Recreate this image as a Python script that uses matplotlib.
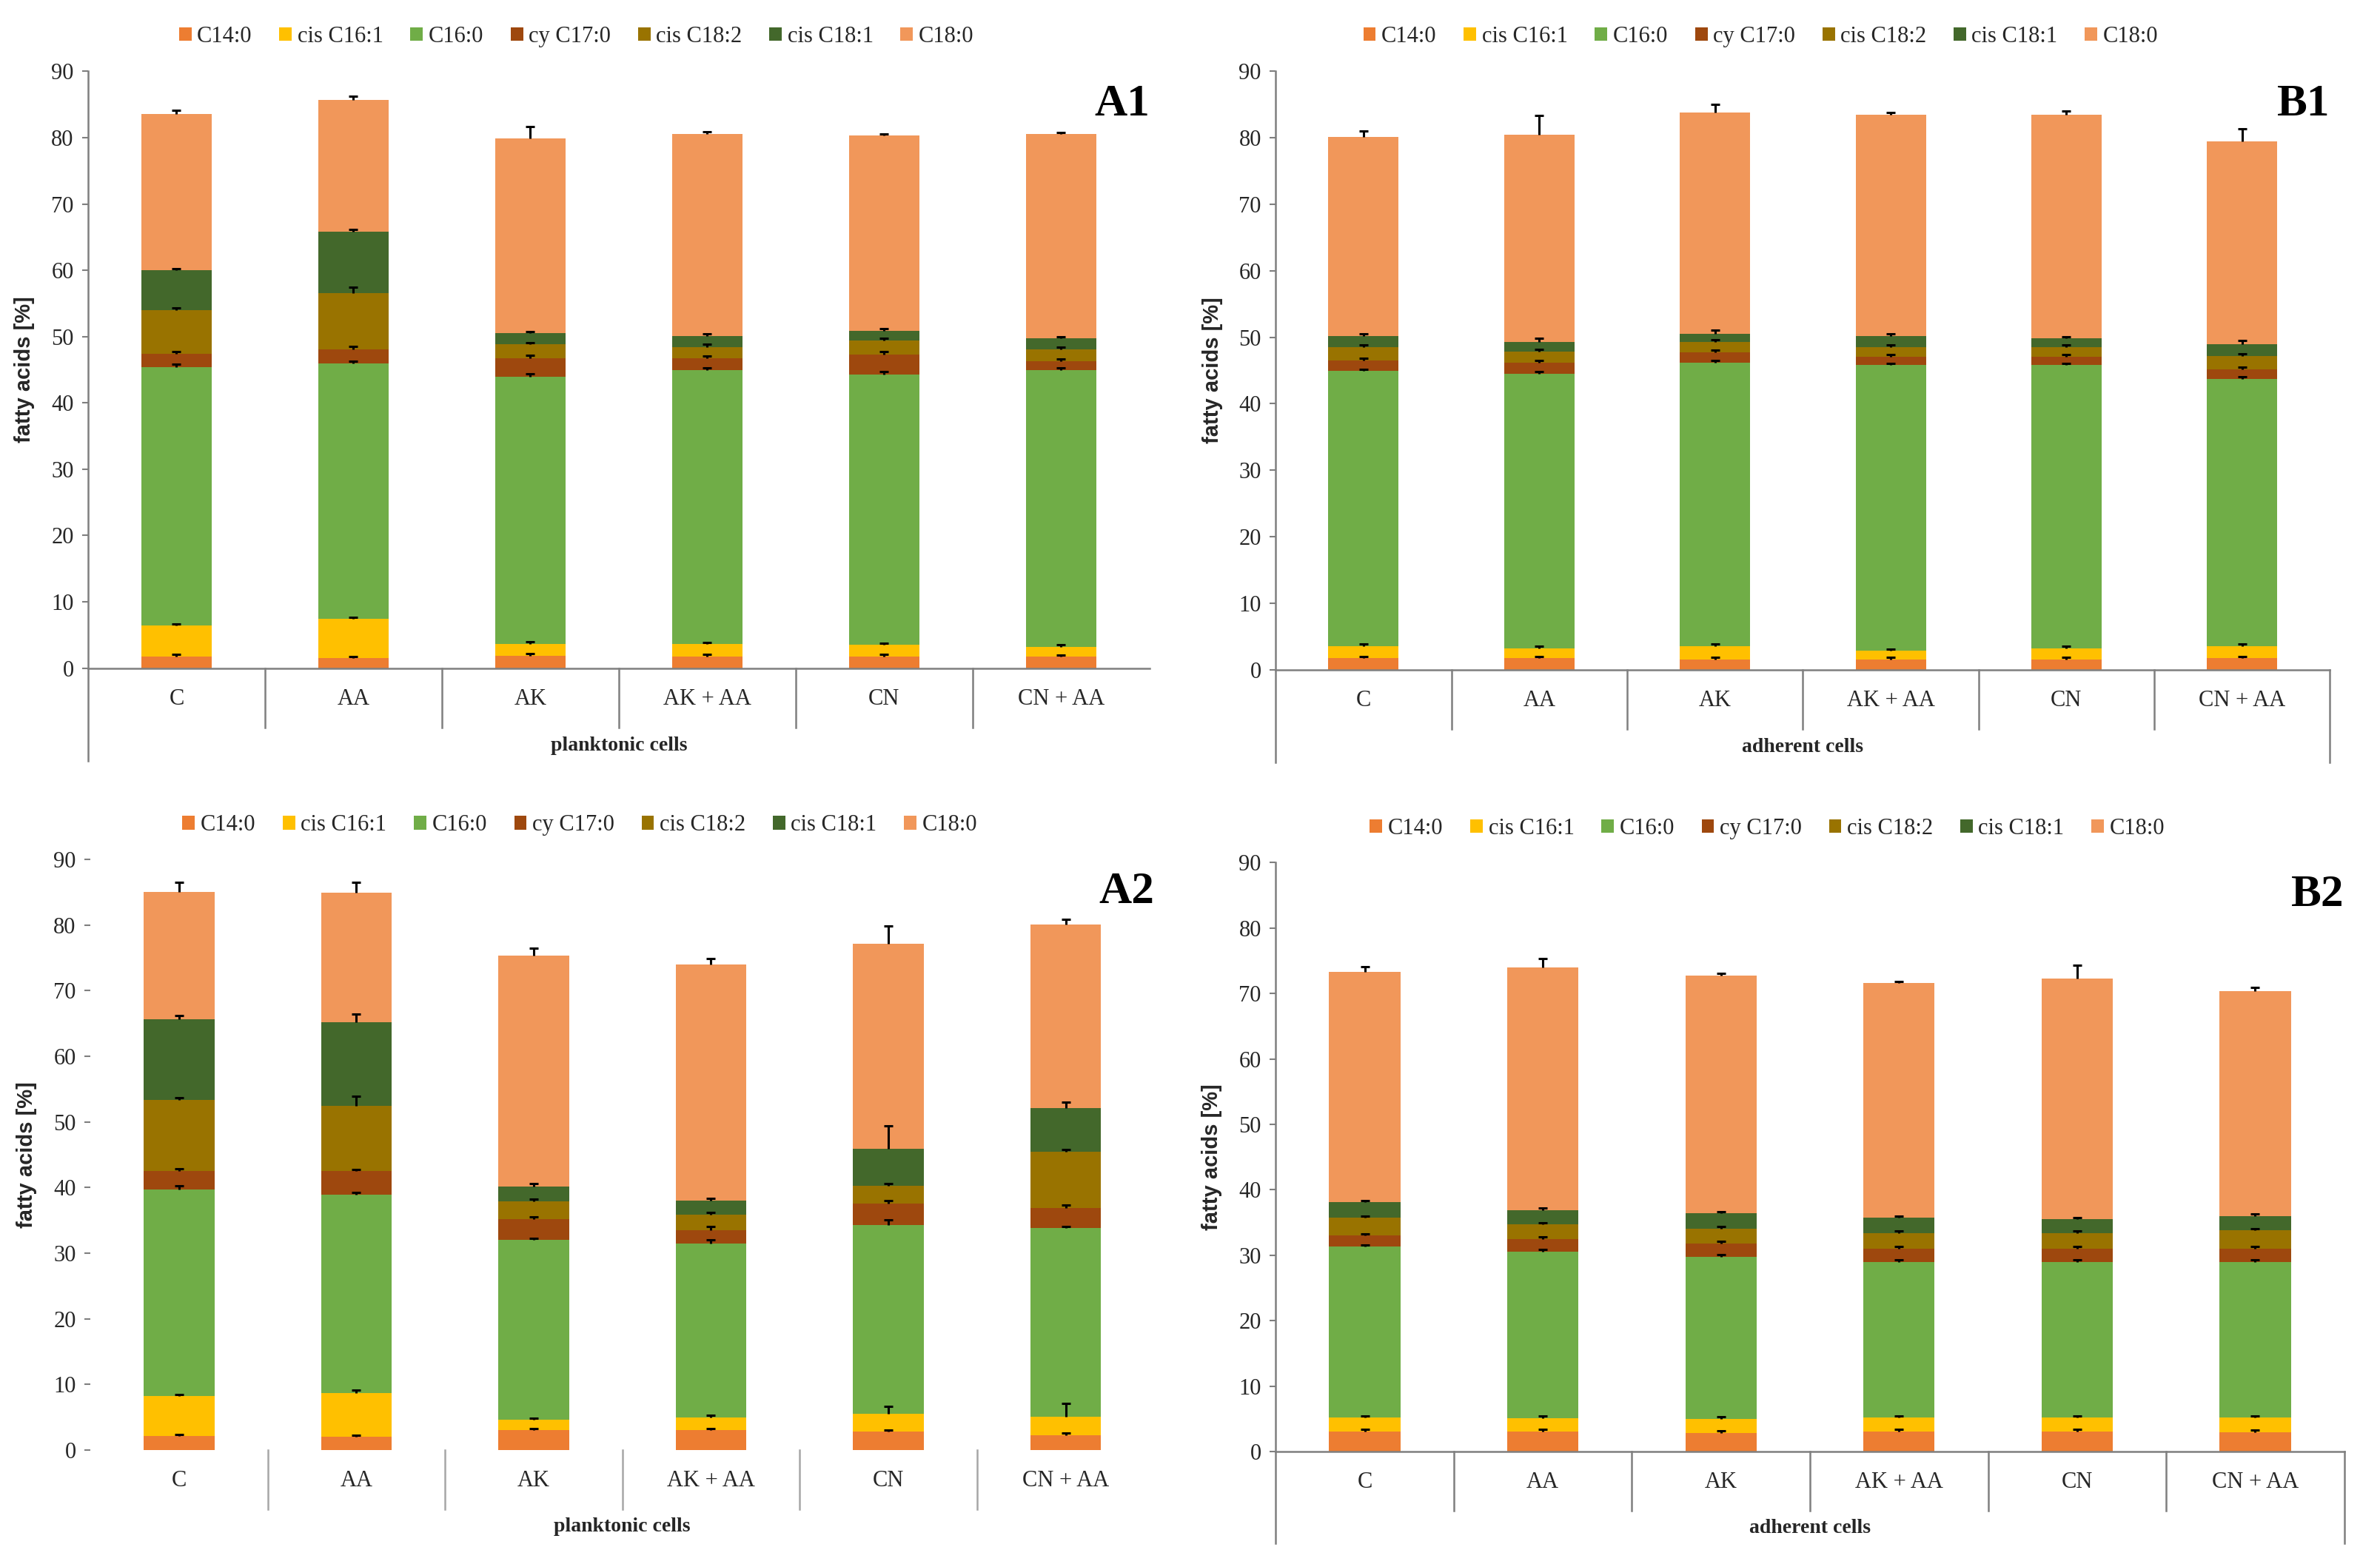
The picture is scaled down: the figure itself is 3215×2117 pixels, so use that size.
import numpy as np
import matplotlib
matplotlib.use("Agg")
import matplotlib.pyplot as plt

plt.rcParams["font.family"] = ["Liberation Serif", "DejaVu Serif"]

# -----------------------------
# Data
# -----------------------------
CATEGORIES = ["C", "AA", "AK", "AK + AA", "CN", "CN + AA"]
SERIES = ["C14:0", "cis C16:1", "C16:0", "cy C17:0", "cis C18:2", "cis C18:1", "C18:0"]
COLORS = ["#ED7D31", "#FFC000", "#70AD47", "#9E480E", "#997300", "#43682B", "#F1975A"]

# rows follow SERIES order, columns follow CATEGORIES
A1_VALUES = [
    [1.8, 1.5, 1.9, 1.8, 1.8, 1.7],
    [4.6, 5.9, 1.7, 1.8, 1.7, 1.5],
    [39.0, 38.6, 40.3, 41.4, 40.8, 41.8],
    [2.0, 2.1, 2.8, 1.7, 3.0, 1.3],
    [6.6, 8.4, 2.1, 1.7, 2.1, 1.8],
    [6.0, 9.3, 1.7, 1.7, 1.5, 1.7],
    [23.6, 19.9, 29.4, 30.5, 29.4, 30.8],
]
A1_ERR = [
    [0.3, 0.3, 0.3, 0.3, 0.3, 0.3],
    [0.3, 0.3, 0.4, 0.3, 0.3, 0.3],
    [0.4, 0.3, 0.5, 0.3, 0.4, 0.3],
    [0.3, 0.4, 0.5, 0.4, 0.4, 0.3],
    [0.3, 1.0, 0.3, 0.4, 0.4, 0.3],
    [0.2, 0.3, 0.3, 0.3, 0.3, 0.2],
    [0.5, 0.5, 1.8, 0.3, 0.3, 0.2],
]

B1_VALUES = [
    [1.7, 1.7, 1.5, 1.5, 1.5, 1.7],
    [1.8, 1.5, 2.0, 1.3, 1.7, 1.8],
    [41.4, 41.3, 42.7, 43.0, 42.6, 40.2],
    [1.6, 1.7, 1.5, 1.3, 1.3, 1.5],
    [2.0, 1.6, 1.6, 1.4, 1.4, 2.0],
    [1.7, 1.5, 1.2, 1.7, 1.3, 1.7],
    [29.9, 31.2, 33.3, 33.3, 33.7, 30.6],
]
B1_ERR = [
    [0.3, 0.3, 0.3, 0.3, 0.3, 0.3],
    [0.3, 0.3, 0.3, 0.3, 0.3, 0.3],
    [0.3, 0.3, 0.3, 0.3, 0.3, 0.3],
    [0.3, 0.3, 0.4, 0.3, 0.3, 0.3],
    [0.3, 0.4, 0.3, 0.3, 0.3, 0.3],
    [0.3, 0.5, 0.6, 0.3, 0.3, 0.6],
    [0.9, 2.9, 1.2, 0.3, 0.5, 1.8],
]

A2_VALUES = [
    [2.1, 2.0, 3.0, 3.0, 2.8, 2.3],
    [6.1, 6.7, 1.6, 2.0, 2.7, 2.8],
    [31.5, 30.2, 27.4, 26.5, 28.8, 28.7],
    [2.8, 3.6, 3.2, 2.0, 3.3, 3.1],
    [10.9, 10.0, 2.7, 2.4, 2.7, 8.6],
    [12.2, 12.7, 2.2, 2.1, 5.6, 6.6],
    [19.4, 19.7, 35.2, 36.0, 31.2, 28.0],
]
A2_ERR = [
    [0.3, 0.3, 0.3, 0.3, 0.3, 0.3],
    [0.3, 0.4, 0.3, 0.3, 1.2, 2.0],
    [0.6, 0.3, 0.3, 0.5, 0.8, 0.3],
    [0.4, 0.3, 0.3, 0.6, 0.4, 0.4],
    [0.3, 1.4, 0.3, 0.3, 0.3, 0.3],
    [0.6, 1.2, 0.5, 0.3, 3.5, 0.9],
    [1.5, 1.6, 1.2, 0.9, 2.7, 0.8],
]

B2_VALUES = [
    [3.1, 3.1, 2.9, 3.1, 3.1, 3.0],
    [2.1, 2.0, 2.1, 2.1, 2.1, 2.2],
    [26.1, 25.5, 24.8, 23.8, 23.8, 23.8],
    [1.7, 1.9, 2.0, 2.0, 2.0, 2.0],
    [2.7, 2.2, 2.3, 2.4, 2.4, 2.8],
    [2.4, 2.2, 2.3, 2.3, 2.1, 2.2],
    [35.2, 37.1, 36.3, 35.9, 36.8, 34.3],
]
B2_ERR = [
    [0.3, 0.3, 0.3, 0.3, 0.3, 0.3],
    [0.3, 0.3, 0.3, 0.3, 0.3, 0.3],
    [0.3, 0.3, 0.3, 0.3, 0.3, 0.3],
    [0.3, 0.3, 0.3, 0.3, 0.3, 0.3],
    [0.3, 0.3, 0.3, 0.3, 0.3, 0.3],
    [0.3, 0.3, 0.3, 0.3, 0.3, 0.3],
    [0.8, 1.3, 0.4, 0.2, 2.0, 0.6],
]

AXIS_GRAY = "#7F7F7F"
TEXT_DARK = "#262626"


def draw_panel(ax, values, errors, tag, group_label, right_line=True, plain=False):
    # stacked bars with plus-only error bars, Excel style
    x = np.arange(len(CATEGORIES))
    bottom = np.zeros(len(CATEGORIES))
    for vals, err, name, color in zip(values, errors, SERIES, COLORS):
        vals = np.asarray(vals)
        ax.bar(x, vals, 0.4, bottom=bottom, color=color, label=name, zorder=2)
        top = bottom + vals
        upper = top + np.asarray(err)
        ax.vlines(x, top, upper, color="black", lw=2.2, zorder=3)
        ax.hlines(upper, x - 0.025, x + 0.025, color="black", lw=2.2, zorder=3)
        bottom = top

    ax.set_xlim(-0.5, len(CATEGORIES) - 0.5)
    ax.set_ylim(0, 90)
    ax.set_yticks(range(0, 91, 10))
    ax.set_xticks([])
    ax.tick_params(axis="y", labelsize=22, length=6, width=1.5, color=AXIS_GRAY, pad=8,
                   labelcolor=TEXT_DARK)

    for s in ["top", "right"]:
        ax.spines[s].set_visible(False)
    if plain:
        ax.spines["left"].set_visible(False)
        ax.spines["bottom"].set_visible(False)
    else:
        ax.spines["left"].set_color(AXIS_GRAY)
        ax.spines["bottom"].set_color(AXIS_GRAY)
        ax.spines["left"].set_linewidth(1.8)
        ax.spines["bottom"].set_linewidth(1.8)

    # multi-level category axis drawn below the plot
    xt = ax.get_xaxis_transform()
    for i, cat in enumerate(CATEGORIES):
        ax.text(i, -0.052, cat, transform=xt, ha="center", va="center",
                fontsize=22, color=TEXT_DARK)
    for i in range(len(CATEGORIES) - 1):
        ax.plot([i + 0.5, i + 0.5], [0, -0.10], transform=xt, clip_on=False,
                color="#A6A6A6" if plain else AXIS_GRAY, lw=1.8)
    if not plain:
        ax.plot([0, 0], [0, -0.155], transform=ax.transAxes, clip_on=False,
                color=AXIS_GRAY, lw=1.8)
        if right_line:
            ax.plot([1, 1], [0, -0.155], transform=ax.transAxes, clip_on=False,
                    color=AXIS_GRAY, lw=1.8)
    ax.text(0.5, -0.13, group_label, transform=ax.transAxes, ha="center", va="center",
            fontsize=20, fontweight="bold", color=TEXT_DARK)

    ax.set_ylabel("fatty acids [%]", fontsize=21, fontweight="bold", color=TEXT_DARK,
                  family=["Liberation Sans", "DejaVu Sans"])
    ax.yaxis.set_label_coords(-0.05, 0.5)

    ax.text(1.0, 0.945, tag, transform=ax.transAxes, ha="right", va="center",
            fontsize=44, fontweight="bold")

    leg = ax.legend(loc="center", bbox_to_anchor=(0.46, 1.058), ncol=7, frameon=False,
                    fontsize=22, handlelength=0.55, handleheight=0.55, handletextpad=0.25,
                    columnspacing=1.2)
    for t in leg.get_texts():
        t.set_color(TEXT_DARK)


fig = plt.figure(figsize=(32.15, 21.17), dpi=100)

ax_a1 = fig.add_axes([0.037, 0.5736, 0.446, 0.3809])
ax_b1 = fig.add_axes([0.536, 0.5727, 0.443, 0.3818])
ax_a2 = fig.add_axes([0.038, 0.0746, 0.447, 0.3770])
ax_b2 = fig.add_axes([0.536, 0.0736, 0.449, 0.3760])

draw_panel(ax_a1, A1_VALUES, A1_ERR, "A1", "planktonic cells", right_line=False)
draw_panel(ax_b1, B1_VALUES, B1_ERR, "B1", "adherent cells")
draw_panel(ax_a2, A2_VALUES, A2_ERR, "A2", "planktonic cells", plain=True)
draw_panel(ax_b2, B2_VALUES, B2_ERR, "B2", "adherent cells")

fig.savefig("out.png", dpi=100)
